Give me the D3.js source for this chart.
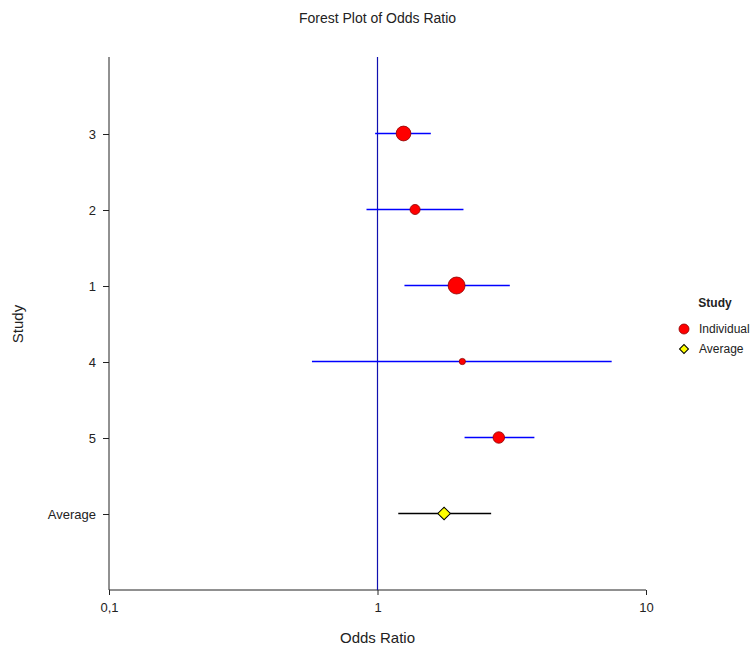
<!DOCTYPE html>
<html>
<head>
<meta charset="utf-8">
<script src="https://cdn.jsdelivr.net/npm/d3@7"></script>
<style>
    body { margin: 0; background: #fff; }
    svg text { font-family: Arial, "Liberation Sans", sans-serif; fill: #222; }
</style>
</head>
<body>
<div id="chart"></div>
<script>
'use strict';

// Studies, top to bottom, as listed on the y axis
var studies   = ['3', '2', '1', '4', '5'];
var oddsRatio = [1.25, 1.38, 1.97, 2.07, 2.83];
var ciLower   = [0.98, 0.91, 1.26, 0.57, 2.11];
var ciUpper   = [1.58, 2.09, 3.11, 7.45, 3.84];
var weights   = [28, 13, 37, 5, 17];

var averageLabel = 'Average';
var averageOR    = 1.77;
var averageLower = 1.195;
var averageUpper = 2.65;

var xTicks      = [0.1, 1, 10];
var xTickLabels = ['0,1', '1', '10'];

var width  = 750,
    height = 648,
    margin = {top: 57, right: 104, bottom: 58, left: 109};

var svg = d3.select('#chart').append('svg')
    .attr('width', width)
    .attr('height', height);

var plotW = width - margin.left - margin.right,
    plotH = height - margin.top - margin.bottom;

var g = svg.append('g')
    .attr('transform', 'translate(' + margin.left + ',' + margin.top + ')');

var x = d3.scaleLog()
    .domain([0.1, 10])
    .range([0, plotW]);

// one empty slot above and below the rows
var rows = [''].concat(studies, [averageLabel, ' ']);
var y = d3.scalePoint()
    .domain(rows)
    .range([0, plotH])
    .round(true);

// crisp 1px horizontal lines
function yLine(d) {
    return y(d) - 0.5;
}

var r = d3.scaleSqrt()
    .domain([0, d3.max(weights)])
    .range([0, 8.5]);

// axes (domain lines drawn by hand below)
var xAxis = g.append('g')
    .attr('transform', 'translate(0,' + plotH + ')')
    .call(d3.axisBottom(x)
        .tickValues(xTicks)
        .tickFormat(function (d, i) { return xTickLabels[i]; })
        .tickSizeOuter(0)
        .tickSize(5)
        .tickPadding(8));

var yAxis = g.append('g')
    .call(d3.axisLeft(y)
        .tickValues(studies.concat([averageLabel]))
        .tickSizeOuter(0)
        .tickSize(6)
        .tickPadding(7));

[xAxis, yAxis].forEach(function (a) {
    a.select('.domain').remove();
    a.selectAll('.tick line').attr('stroke', '#222');
    a.selectAll('.tick text')
        .style('font-size', '13px')
        .style('font-family', 'Arial, "Liberation Sans", sans-serif')
        .attr('fill', '#222');
});

g.append('line')
    .attr('x1', 0).attr('x2', 0)
    .attr('y1', 0).attr('y2', plotH)
    .attr('stroke', '#222');

g.append('line')
    .attr('x1', 0).attr('x2', plotW)
    .attr('y1', plotH).attr('y2', plotH)
    .attr('stroke', '#222');

// reference line at OR = 1
g.append('line')
    .attr('x1', x(1)).attr('x2', x(1))
    .attr('y1', 0).attr('y2', plotH)
    .attr('stroke', '#1010b0')
    .attr('stroke-width', 1.2);

// individual studies
var rowsG = g.selectAll('.study')
    .data(studies)
    .enter().append('g')
    .attr('class', 'study');

rowsG.append('line')
    .attr('x1', function (d, i) { return x(ciLower[i]); })
    .attr('x2', function (d, i) { return x(ciUpper[i]); })
    .attr('y1', yLine)
    .attr('y2', yLine)
    .attr('stroke', '#0000ff')
    .attr('stroke-width', 1.3);

rowsG.append('circle')
    .attr('cx', function (d, i) { return x(oddsRatio[i]); })
    .attr('cy', yLine)
    .attr('r', function (d, i) { return r(weights[i]); })
    .attr('fill', '#ff0000')
    .attr('stroke', '#8b0000')
    .attr('stroke-width', 0.8);

// pooled average
var diamond = d3.symbol().type(d3.symbolSquare).size(80);

g.append('line')
    .attr('x1', x(averageLower))
    .attr('x2', x(averageUpper))
    .attr('y1', yLine(averageLabel))
    .attr('y2', yLine(averageLabel))
    .attr('stroke', '#000')
    .attr('stroke-width', 1.3);

g.append('path')
    .attr('d', diamond)
    .attr('transform', 'translate(' + x(averageOR) + ',' + yLine(averageLabel) + ') rotate(45)')
    .attr('fill', '#ffff00')
    .attr('stroke', '#000')
    .attr('stroke-width', 1);

// titles
svg.append('text')
    .attr('x', margin.left + x(1))
    .attr('y', 23)
    .attr('text-anchor', 'middle')
    .style('font-size', '14px')
    .text('Forest Plot of Odds Ratio');

svg.append('text')
    .attr('x', margin.left + x(1))
    .attr('y', 643)
    .attr('text-anchor', 'middle')
    .style('font-size', '15px')
    .text('Odds Ratio');

svg.append('text')
    .attr('transform', 'translate(23,' + (margin.top + y(studies[2]) + 38) + ') rotate(-90)')
    .attr('text-anchor', 'middle')
    .style('font-size', '15px')
    .text('Study');

// legend
var legend = svg.append('g')
    .attr('transform', 'translate(684,302)');

legend.append('text')
    .attr('x', 31)
    .attr('y', 5)
    .attr('text-anchor', 'middle')
    .style('font-size', '12px')
    .style('font-weight', 'bold')
    .text('Study');

legend.append('circle')
    .attr('cx', 0).attr('cy', 27).attr('r', 5)
    .attr('fill', '#ff0000')
    .attr('stroke', '#8b0000')
    .attr('stroke-width', 0.8);

legend.append('text')
    .attr('x', 15).attr('y', 31)
    .style('font-size', '12px')
    .text('Individual');

legend.append('path')
    .attr('d', d3.symbol().type(d3.symbolSquare).size(40))
    .attr('transform', 'translate(0,47) rotate(45)')
    .attr('fill', '#ffff00')
    .attr('stroke', '#000')
    .attr('stroke-width', 1);

legend.append('text')
    .attr('x', 15).attr('y', 51)
    .style('font-size', '12px')
    .text('Average');
</script>
</body>
</html>
